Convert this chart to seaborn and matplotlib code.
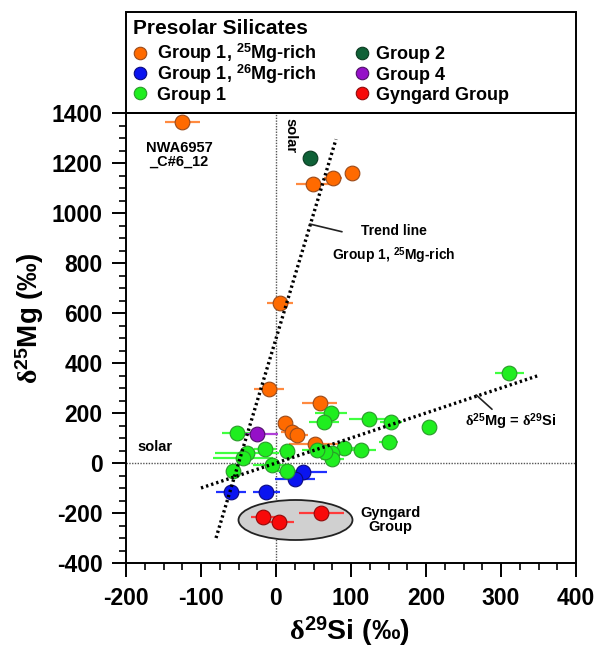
import matplotlib
matplotlib.use("Agg")
import matplotlib.pyplot as plt
from matplotlib.lines import Line2D
from matplotlib.patches import Ellipse, Rectangle
from matplotlib.ticker import MultipleLocator
import pandas as pd
import seaborn as sns

# ---------------------------------------------------------------------------
# Data (delta values in permil)
# ---------------------------------------------------------------------------
mg25_x = [-125, 49, 76, 101, 5, -10, 58, 12, 21, 28, 52]
mg25_y = [1365, 1116, 1142, 1162, 640, 296, 239, 159, 125, 112, 75]
mg25_xerr = [23, 23, 12, 0, 17, 20, 23, 0, 15, 15, 35]

mg26_x = [36, 25, -60, -13]
mg26_y = [-35, -65, -115, -115]
mg26_xerr = [32, 27, 20, 18]

g1_x = [311, 73, 64, 124, 153, 204, 150, 113, 90, 75, 75, 65, 54,
        -52, -15, -39, -44, 14, -6, 15, -57]
g1_y = [359, 201, 165, 175, 165, 143, 85, 52, 59, 40, 15, 45, 52,
        121, 55, 39, 19, 49, -8, -30, -31]
g1_xerr = [19, 21, 20, 27, 15, 0, 13, 20, 15, 25, 15, 20, 20,
           20, 15, 43, 40, 10, 25, 22, 10]

g2_x, g2_y, g2_xerr = [45], [1220], [0]
g4_x, g4_y, g4_xerr = [-26], [116], [28]

gyn_x = [-18, 4, 60]
gyn_y = [-215, -235, -201]
gyn_xerr = [16, 20, 30]

trend_x = [-80, 80]
trend_y = [-300, 1295]
unity_x = [-100, 350]
unity_y = [-100, 350]

groups = ["Group 1, 25Mg-rich", "Group 1, 26Mg-rich", "Group 1",
          "Group 2", "Group 4", "Gyngard Group"]
labels = ["Group 1, $^{\\mathbf{25}}$Mg-rich", "Group 1, $^{\\mathbf{26}}$Mg-rich",
          "Group 1", "Group 2", "Group 4", "Gyngard Group"]
face = ["#ff6a00", "#0a14f0", "#1fee1f", "#0f6137", "#9510c8", "#f80a0a"]
edge = ["#9a4a1a", "#0a0a80", "#2a9a2a", "#0a3a20", "#50106a", "#900a0a"]
bar = ["#ff8a40", "#2030ff", "#40ff40", "#0f6137", "#b040d8", "#ff3a3a"]

series = [(mg25_x, mg25_y, mg25_xerr), (mg26_x, mg26_y, mg26_xerr),
          (g1_x, g1_y, g1_xerr), (g2_x, g2_y, g2_xerr),
          (g4_x, g4_y, g4_xerr), (gyn_x, gyn_y, gyn_xerr)]

rows = []
for g, (xs, ys, es) in zip(groups, series):
    for xv, yv, ev in zip(xs, ys, es):
        rows.append({"group": g, "si29": xv, "mg25": yv, "err": ev})
df = pd.DataFrame(rows)

# ---------------------------------------------------------------------------
# Style
# ---------------------------------------------------------------------------
sns.set_theme(style="ticks")
plt.rcParams["font.family"] = ["Liberation Sans", "DejaVu Sans"]
plt.rcParams["font.weight"] = "bold"
plt.rcParams["text.color"] = "black"
plt.rcParams["axes.labelcolor"] = "black"
plt.rcParams["axes.unicode_minus"] = False
plt.rcParams["mathtext.fontset"] = "custom"
plt.rcParams["mathtext.rm"] = "Liberation Serif"
plt.rcParams["mathtext.it"] = "Liberation Serif:italic"
plt.rcParams["mathtext.bf"] = "Liberation Sans:bold"
plt.rcParams["mathtext.sf"] = "Liberation Sans"

W, H = 599, 647
fig = plt.figure(figsize=(W / 100, H / 100), dpi=100)
ax = fig.add_axes([126 / W, 1 - 563 / H, 450 / W, 450 / H])

# solar reference lines
ax.axvline(0, color="#555555", lw=1.0, ls=(0, (1, 1)), zorder=1)
ax.axhline(0, color="#555555", lw=1.0, ls=(0, (1, 1)), zorder=1)

ax.add_patch(Ellipse((26, -228), 152, 160, facecolor="#d0d0d0",
                     edgecolor="#222222", lw=1.3, zorder=1.5))

for g, c in zip(groups, bar):
    sub = df[(df["group"] == g) & (df["err"] > 0)]
    ax.errorbar(sub["si29"], sub["mg25"], xerr=sub["err"], fmt="none",
                ecolor=c, elinewidth=1.6, capsize=0, zorder=2)

for g, fc, ec in zip(groups, face, edge):
    sub = df[df["group"] == g]
    sns.scatterplot(data=sub, x="si29", y="mg25", color=fc, edgecolor=ec,
                    linewidth=0.8, s=112, ax=ax, legend=False, zorder=3)

ax.plot(trend_x, trend_y, color="black", lw=2.4, ls=(0, (0.7, 0.9)), zorder=4)
ax.plot(unity_x, unity_y, color="black", lw=2.4, ls=(0, (0.7, 0.9)), zorder=4)

# annotations
ax.text(-129, 1232, "NWA6957\n_C#6_12", ha="center", va="center",
        fontsize=10.5, fontweight="bold", linespacing=1.0)
ax.text(19, 1308, "solar", rotation=270, ha="center", va="center",
        fontsize=10.5, fontweight="bold")
ax.text(-185, 64, "solar", ha="left", va="center", fontsize=10.5,
        fontweight="bold")
ax.plot([45, 88], [956, 925], color="#222222", lw=1.2, zorder=4)
ax.text(157, 872, "Trend line\nGroup 1, $^{\\mathbf{25}}$Mg-rich", ha="center",
        va="center", fontsize=10, fontweight="bold", linespacing=1.42)
ax.plot([267, 288], [272, 215], color="#222222", lw=1.2, zorder=4)
ax.text(313, 165,
        "$\\mathrm{\\delta}^{\\mathbf{25}}$Mg = $\\mathrm{\\delta}^{\\mathbf{29}}$Si",
        ha="center", va="center", fontsize=10.5, fontweight="bold")
ax.text(153, -228, "Gyngard\nGroup", ha="center", va="center", fontsize=10.5,
        fontweight="bold", linespacing=1.05)

# axes
ax.set_xlim(-200, 400)
ax.set_ylim(-400, 1400)
ax.xaxis.set_major_locator(MultipleLocator(100))
ax.xaxis.set_minor_locator(MultipleLocator(25))
ax.yaxis.set_major_locator(MultipleLocator(200))
ax.yaxis.set_minor_locator(MultipleLocator(50))
ax.tick_params(which="major", direction="out", length=10, width=1.4,
               labelsize=16.5, colors="black", pad=7)
ax.tick_params(which="minor", direction="out", length=5, width=1.2,
               colors="black")
for lab in ax.get_xticklabels() + ax.get_yticklabels():
    lab.set_fontweight("bold")
for sp in ax.spines.values():
    sp.set_visible(True)
    sp.set_linewidth(1.4)
    sp.set_color("black")

ax.set_xlabel("$\\mathrm{\\delta}^{\\mathsf{29}}$Si (‰)", fontsize=20.5,
              fontweight="bold", va="bottom")
ax.set_ylabel("$\\mathrm{\\delta}^{\\mathsf{25}}$Mg (‰)", fontsize=20,
              fontweight="bold", va="center")
ax.xaxis.set_label_coords(0.496, -0.188)
ax.yaxis.set_label_coords(-0.213, 0.544)

# legend box sitting on top of the axes (entries placed on a fixed grid
# so that rows with superscripts line up with the plain ones)
fig.patches.append(Rectangle((126 / W, 1 - 113 / H), 450 / W, 101 / H,
                             transform=fig.transFigure, fill=False,
                             edgecolor="black", lw=1.4))
fig.text(133 / W, 1 - 28 / H, "Presolar Silicates", ha="left", va="center",
         fontsize=15, fontweight="bold")
col_marker = [139.5, 362]
col_text = [157, 376]
row_y = [52.7, 73.3, 93.3]
for i, (lab, fc, ec) in enumerate(zip(labels, face, edge)):
    c, r = divmod(i, 3)
    fig.add_artist(Line2D([col_marker[c] / W], [1 - row_y[r] / H],
                          transform=fig.transFigure, ls="none", marker="o",
                          markersize=9, markerfacecolor=fc,
                          markeredgecolor=ec, markeredgewidth=0.8))
    fig.text(col_text[c] / W, 1 - (row_y[r] + 6.5) / H, lab, ha="left",
             va="baseline", fontsize=13, fontweight="bold")

fig.savefig("out.png", dpi=100)
